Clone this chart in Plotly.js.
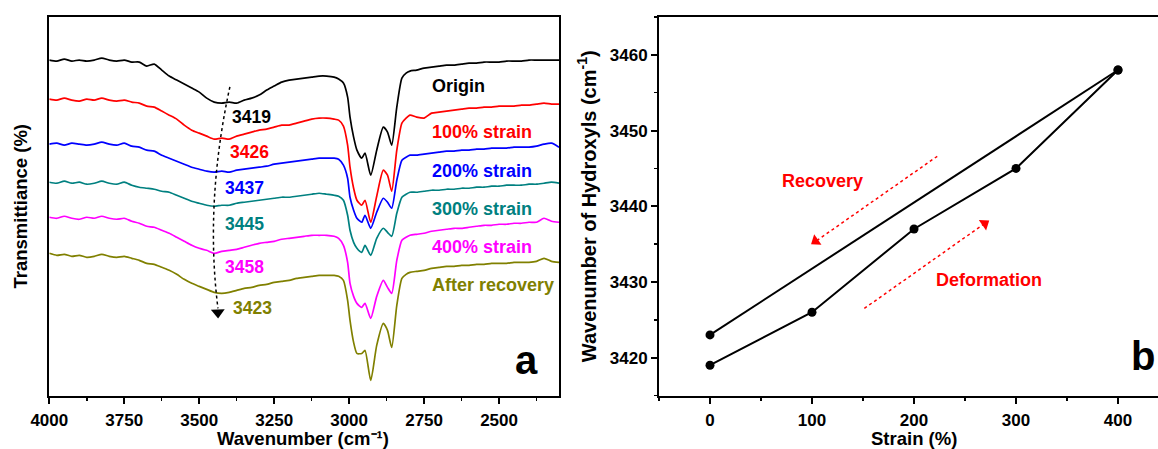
<!DOCTYPE html>
<html><head><meta charset="utf-8">
<script src="https://cdn.plot.ly/plotly-3.0.1.min.js"></script>
<style>html,body{margin:0;padding:0;background:#fff;overflow:hidden}#chart{width:1158px;height:449px}</style>
</head><body><div id="chart"></div>
<script>
// ---- Panel a: FTIR spectra (stacked, arbitrary transmittance units) ----
const wavenumber = [4000,3975,3950,3925,3900,3875,3850,3825,3800,3775,3750,3725,3700,3675,3650,3625,3600,3575,3550,3525,3500,3475,3450,3425,3400,3375,3350,3325,3300,3275,3250,3225,3200,3175,3150,3125,3100,
  3075,3050,3035,3019,3005,2997,2985,2974,2958,2947,2928,2908,2886,2872,2858,2841,2824,2810,2797,
  2775,2750,2725,2700,2675,2650,2625,2600,2575,2550,2525,2500,2475,2450,2425,2400,2375,2350,2325,2300];

const origin = [340,339,341,339,340,339,340,342,340,339,340,338,338,334,336,330,324,320,316,312,308,302,298,297,298,297,300,302,305,310,314,318,320,321,322,323,324,
  324,323,321,317,303,283,263,250,242,247,225,250,273,268,255,293,322,327,329,
  330,332,333,334,335,335,336,337,337,338,338,338,339,339,339,340,340,340,340,340];

const strain100 = [301,300,302,300,299,301,300,302,300,299,300,298,297,294,293,289,285,281,275,270,267,264,261,262,261,264,266,268,270,271,273,275,275,277,279,281,282,
  282,281,280,274,255,233,212,200,195,200,178,204,230,225,209,250,277,282,285,
  283,282,287,288,289,290,291,292,292,293,293,294,294,294,295,295,296,297,296,296];

const strain200 = [256,257,255,257,256,255,256,258,256,255,257,254,253,250,249,245,242,239,236,233,231,229,228,229,228,230,231,232,233,234,236,237,238,239,240,241,242,
  242,242,241,235,222,203,190,182,178,185,172,188,202,198,192,220,240,243,245,
  245,246,247,248,249,249,250,250,251,251,252,252,252,253,253,253,254,256,257,253];

const strain300 = [218,217,219,217,218,216,217,219,217,216,218,215,213,212,211,209,208,205,202,199,197,195,194,195,195,197,198,199,200,201,202,203,203,204,205,206,207,
  206,205,204,200,185,170,158,152,148,155,145,162,172,168,164,187,203,206,208,
  208,209,210,210,211,211,212,212,213,213,214,214,215,215,215,216,216,217,218,217];

const strain400 = [183,182,184,182,181,183,182,184,182,181,182,179,177,174,173,170,167,163,159,155,152,150,147,149,150,151,153,155,157,158,159,161,162,163,164,165,165,
  165,164,162,155,138,117,104,97,93,97,82,104,120,113,107,140,160,163,165,
  166,167,169,170,171,172,172,173,174,175,175,176,176,177,177,178,178,182,179,178];

const afterRecovery = [147,145,146,144,145,143,144,146,144,143,144,142,140,137,136,133,130,126,121,117,114,111,108,107,108,110,112,113,115,116,118,119,120,122,123,124,125,
  125,125,124,120,100,80,58,47,47,50,20,55,77,70,53,95,122,126,128,
  129,130,132,133,134,134,135,135,136,136,137,137,137,138,138,138,139,142,139,138];

const seriesNames = ["Origin","100% strain","200% strain","300% strain","400% strain","After recovery"];
const seriesColors = ["#000000","#ff0000","#0000ff","#008080","#ff00ff","#808000"];
const peakLabels = ["3419","3426","3437","3445","3458","3423"];

// ---- Panel b: hydroxyl wavenumber vs strain ----
const strainDeform = [0,100,200,300,400];
const wnDeform = [3419,3426,3437,3445,3458];
const strainRecover = [400,0];
const wnRecover = [3458,3423];

const FONT = "Liberation Sans, Arial, Helvetica, sans-serif";
const spectra = [origin,strain100,strain200,strain300,strain400,afterRecovery];

const traces = spectra.map((s,i)=>({
  type:"scatter", mode:"lines", x:wavenumber, y:s, xaxis:"x", yaxis:"y",
  name:seriesNames[i], line:{color:seriesColors[i], width:1.7, shape:"spline", smoothing:0.6}, hoverinfo:"skip"
}));
traces.push({type:"scatter", mode:"lines+markers", x:strainDeform, y:wnDeform, xaxis:"x2", yaxis:"y2",
  name:"Deformation", line:{color:"#000", width:2}, marker:{color:"#000", size:9}});
traces.push({type:"scatter", mode:"lines+markers", x:strainRecover, y:wnRecover, xaxis:"x2", yaxis:"y2",
  name:"Recovery", line:{color:"#000", width:2}, marker:{color:"#000", size:9}});
// arrowheads of the guide arrows (decorations)
traces.push({type:"scatter", mode:"markers", x:[3437.7], y:[88], xaxis:"x", yaxis:"y", hoverinfo:"skip",
  marker:{symbol:"triangle-up", angle:178, size:12, color:"#000"}});
traces.push({type:"scatter", mode:"markers", x:[103.5, 269.3], y:[3435.4, 3437.7], xaxis:"x2", yaxis:"y2", hoverinfo:"skip",
  marker:{symbol:"triangle-up", angle:[-125, 55], size:11, color:"#ff0000"}});

// label positions (data coords of panel a)
const nameY = [313.7,267.7,229.3,191.7,153.3,115];
const peakPos = [[3398,283.3],[3403,248.3],[3420,212.7],[3420,176.7],[3420,133.3],[3395,92.7]];

const titleFont = {family:FONT, size:18.5, weight:"bold", color:"#000"};
const annotations = [];
seriesNames.forEach((n,i)=>{
  annotations.push({xref:"x", yref:"y", x:2731, y:nameY[i], text:n, showarrow:false, xanchor:"left", yanchor:"middle",
    font:{family:FONT, size:18, weight:"bold", color:seriesColors[i]}});
  annotations.push({xref:"x", yref:"y", x:peakPos[i][0], y:peakPos[i][1], text:peakLabels[i], showarrow:false, xanchor:"left", yanchor:"middle",
    font:{family:FONT, size:17.5, weight:"bold", color:seriesColors[i]}});
});
annotations.push({xref:"x2", yref:"y2", x:110, y:3443.3, text:"Recovery", showarrow:false, xanchor:"center", font:{family:FONT, size:18, weight:"bold", color:"#ff0000"}});
annotations.push({xref:"x2", yref:"y2", x:274, y:3430.3, text:"Deformation", showarrow:false, xanchor:"center", font:{family:FONT, size:18, weight:"bold", color:"#ff0000"}});
annotations.push({xref:"paper", yref:"paper", x:526/1158, y:1-360/449, xanchor:"center", yanchor:"middle", text:"a", showarrow:false, font:{family:FONT, size:40, weight:"bold", color:"#000"}});
annotations.push({xref:"paper", yref:"paper", x:1143/1158, y:1-356/449, xanchor:"center", yanchor:"middle", text:"b", showarrow:false, font:{family:FONT, size:40, weight:"bold", color:"#000"}});
// x-axis titles
annotations.push({xref:"paper", yref:"paper", x:303/1158, y:1-438/449, xanchor:"center", yanchor:"middle", borderpad:0, text:"Wavenumber (cm⁻¹)", showarrow:false, font:titleFont});
annotations.push({xref:"paper", yref:"paper", x:914/1158, y:1-438/449, xanchor:"center", yanchor:"middle", borderpad:0, text:"Strain (%)", showarrow:false, font:titleFont});

const shapes = [
  {type:"path", xref:"x", yref:"y", path:"M 3397.7,313.3 Q 3481.5,197.3 3437.5,92", line:{color:"#000", width:1.5, dash:"dot"}},
  {type:"line", xref:"x2", yref:"y2", x0:222.8, y0:3446.6, x1:104, y1:3435.4, line:{color:"#ff0000", width:1.5, dash:"dot"}},
  {type:"line", xref:"x2", yref:"y2", x0:151.3, y0:3426.5, x1:269, y1:3437.7, line:{color:"#ff0000", width:1.5, dash:"dot"}}
];

const tickFont = {family:FONT, size:17, weight:"bold", color:"#000"};
const yDom = [(449-395.5)/449, (449-17)/449];

const layout = {
  width:1158, height:449, margin:{l:0,r:0,t:0,b:0},
  paper_bgcolor:"#fff", plot_bgcolor:"#fff", showlegend:false,
  font:{family:FONT, color:"#000"},
  xaxis:{domain:[49.3/1158, 559/1158], range:[4000,2300], tick0:0, dtick:250,
    ticks:"outside", ticklen:6, tickwidth:2, tickcolor:"#000", tickfont:tickFont, ticklabelstandoff:2,
    minor:{dtick:125, tick0:0, ticks:"outside", ticklen:3.5, tickwidth:1.5, tickcolor:"#000"},
    showline:true, linewidth:2, linecolor:"#000", mirror:true, showgrid:false, zeroline:false},
  yaxis:{domain:yDom, range:[5,383], showticklabels:false, ticks:"", showline:true, linewidth:2, linecolor:"#000",
    mirror:true, showgrid:false, zeroline:false,
    title:{text:"Transmittiance (%)", font:{family:FONT, size:18.5, weight:"bold", color:"#000"}, standoff:15}},
  xaxis2:{domain:[659/1158, 1], range:[-50,439.2], tick0:0, dtick:100, anchor:"y2",
    ticks:"outside", ticklen:6, tickwidth:2, tickcolor:"#000", tickfont:tickFont, ticklabelstandoff:2,
    minor:{dtick:50, tick0:0, ticks:"outside", ticklen:3.5, tickwidth:1.5, tickcolor:"#000"},
    showline:true, linewidth:2, linecolor:"#000", mirror:true, showgrid:false, zeroline:false},
  yaxis2:{domain:yDom, range:[3415,3465], tick0:0, dtick:10, anchor:"x2",
    ticks:"outside", ticklen:6, tickwidth:2, tickcolor:"#000", tickfont:tickFont,
    minor:{dtick:5, tick0:0, ticks:"outside", ticklen:3.5, tickwidth:1.5, tickcolor:"#000"},
    showline:true, linewidth:2, linecolor:"#000", mirror:false, showgrid:false, zeroline:false,
    title:{text:"Wavenumber of Hydroxyls (cm<sup>-1</sup>)", font:{family:FONT, size:20, weight:"bold", color:"#000"}, standoff:8}},
  annotations:annotations, shapes:shapes
};

Plotly.newPlot("chart", traces, layout, {staticPlot:true, displayModeBar:false});
</script>
</body></html>
